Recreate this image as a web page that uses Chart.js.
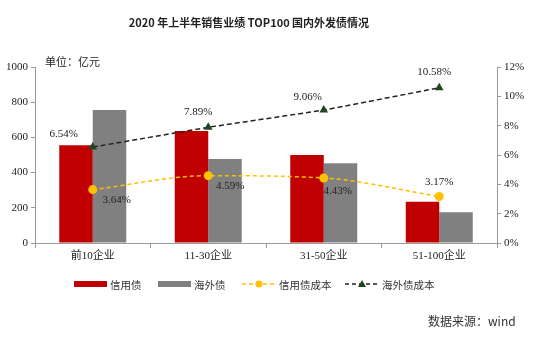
<!DOCTYPE html>
<html>
<head>
<meta charset="utf-8">
<script src="https://cdn.jsdelivr.net/npm/chart.js@4/dist/chart.umd.min.js"></script>
<style>
  body { margin: 0; background: #fff; }
  #wrap { position: relative; width: 555px; height: 339px; overflow: hidden; }
  canvas { position: absolute; left: 0; top: 0; }
  .txt { position: absolute; white-space: nowrap; color: #222; }
  #title { left: 0; width: 498px; top: 14px; text-align: center; font: bold 11px "Noto Sans CJK SC", sans-serif; }
  #unit { left: 45px; top: 53px; font: 11px "Noto Sans CJK SC", serif; }
  #source { left: 428px; top: 312px; font: 12px "Noto Sans CJK SC", sans-serif; color: #333; }
  #legend { position: absolute; top: 276px; left: 0; font: 10.5px "Noto Sans CJK SC", sans-serif; color: #333; }
  #legend .item { position: absolute; display: flex; align-items: center; white-space: nowrap; }
  #legend svg { margin-right: 3px; }
</style>
</head>
<body>
<div id="wrap">
  <canvas id="chart" width="555" height="339"></canvas>
  <div class="txt" id="title">2020 年上半年销售业绩 TOP100 国内外发债情况</div>
  <div class="txt" id="unit">单位：亿元</div>
  <div id="legend">
    <div class="item" style="left:74px"><svg width="33" height="16"><rect x="0" y="5" width="33" height="6" fill="#C00000"/></svg>信用债</div>
    <div class="item" style="left:158px"><svg width="33" height="16"><rect x="0" y="5" width="33" height="6" fill="#808080"/></svg>海外债</div>
    <div class="item" style="left:242px"><svg width="34" height="16"><line x1="0" y1="8" x2="34" y2="8" stroke="#FFC000" stroke-width="1.5" stroke-dasharray="4,3"/><circle cx="17" cy="8" r="3.5" fill="#FFC000"/></svg>信用债成本</div>
    <div class="item" style="left:345px"><svg width="34" height="16"><line x1="0" y1="8" x2="34" y2="8" stroke="#222" stroke-width="1.5" stroke-dasharray="4,3"/><polygon points="17,4 21,11 13,11" fill="#1E4620"/></svg>海外债成本</div>
  </div>
  <div class="txt" id="source">数据来源：wind</div>
</div>
<script>
const categories = ['前10企业', '11-30企业', '31-50企业', '51-100企业'];
const creditBond = [555, 636, 500, 235];
const overseasBond = [756, 477, 453, 175];
const creditCost = [3.64, 4.59, 4.43, 3.17];
const overseasCost = [6.54, 7.89, 9.06, 10.58];
const leftTicks = [0, 200, 400, 600, 800, 1000];
const rightTicks = [0, 2, 4, 6, 8, 10, 12];

// label offsets (px) from each point, per line dataset index
const labelOffsets = {
    2: [[24, 10], [22, 10], [14, 13], [0, -14]],
    3: [[-29, -13], [-10, -15], [-16, -13], [-5, -16]]
};

const pointLabels = {
    id: 'pointLabels',
    afterDatasetsDraw(chart) {
        const ctx = chart.ctx;
        ctx.save();
        ctx.font = '11px "Liberation Serif", serif';
        ctx.fillStyle = '#222';
        ctx.textAlign = 'center';
        ctx.textBaseline = 'middle';
        Object.keys(labelOffsets).forEach(i => {
            const meta = chart.getDatasetMeta(+i);
            const data = chart.data.datasets[i].data;
            meta.data.forEach((pt, j) => {
                const off = labelOffsets[i][j];
                ctx.fillText(data[j].toFixed(2) + '%', pt.x + off[0], pt.y + off[1]);
            });
        });
        ctx.restore();
    }
};

const tickFont = { family: '"Liberation Serif", "Noto Sans CJK SC", serif', size: 11 };

new Chart(document.getElementById('chart'), {
    type: 'bar',
    data: {
        labels: categories,
        datasets: [
            {
                label: '信用债',
                data: creditBond,
                backgroundColor: '#C00000',
                yAxisID: 'y',
                order: 3
            },
            {
                label: '海外债',
                data: overseasBond,
                backgroundColor: '#808080',
                yAxisID: 'y',
                order: 3
            },
            {
                type: 'line',
                label: '信用债成本',
                data: creditCost,
                yAxisID: 'y1',
                borderColor: '#FFC000',
                backgroundColor: '#FFC000',
                borderWidth: 1.5,
                borderDash: [4, 3],
                pointStyle: 'circle',
                pointRadius: 4.5,
                pointBorderWidth: 0,
                cubicInterpolationMode: 'monotone',
                tension: 0.4,
                order: 1
            },
            {
                type: 'line',
                label: '海外债成本',
                data: overseasCost,
                yAxisID: 'y1',
                borderColor: '#222',
                backgroundColor: '#1E4620',
                borderWidth: 1.5,
                borderDash: [5, 3],
                pointStyle: 'triangle',
                pointRadius: 5,
                pointBorderWidth: 0,
                order: 0
            }
        ]
    },
    options: {
        responsive: false,
        animation: false,
        layout: { padding: { top: 67 } },
        datasets: { bar: { barPercentage: 1, categoryPercentage: 0.58 } },
        plugins: { legend: { display: false }, tooltip: { enabled: false } },
        scales: {
            x: {
                grid: { drawOnChartArea: false, tickLength: 5, color: '#999' },
                border: { color: '#999' },
                ticks: { color: '#222', font: tickFont, padding: 2 },
                afterFit: s => { s.height = 96; }
            },
            y: {
                position: 'left',
                min: 0, max: 1000,
                afterBuildTicks: s => { s.ticks = leftTicks.map(v => ({ value: v })); },
                grid: { drawOnChartArea: false, tickLength: 4, color: '#999' },
                border: { color: '#999' },
                ticks: { color: '#222', font: tickFont, padding: 3, callback: v => String(v) },
                afterFit: s => { s.width = 35; }
            },
            y1: {
                position: 'right',
                min: 0, max: 12,
                afterBuildTicks: s => { s.ticks = rightTicks.map(v => ({ value: v })); },
                grid: { drawOnChartArea: false, tickLength: 4, color: '#999' },
                border: { color: '#999' },
                ticks: { color: '#222', font: tickFont, padding: 3, callback: v => v + '%' },
                afterFit: s => { s.width = 58; }
            }
        }
    },
    plugins: [pointLabels]
});
</script>
</body>
</html>
